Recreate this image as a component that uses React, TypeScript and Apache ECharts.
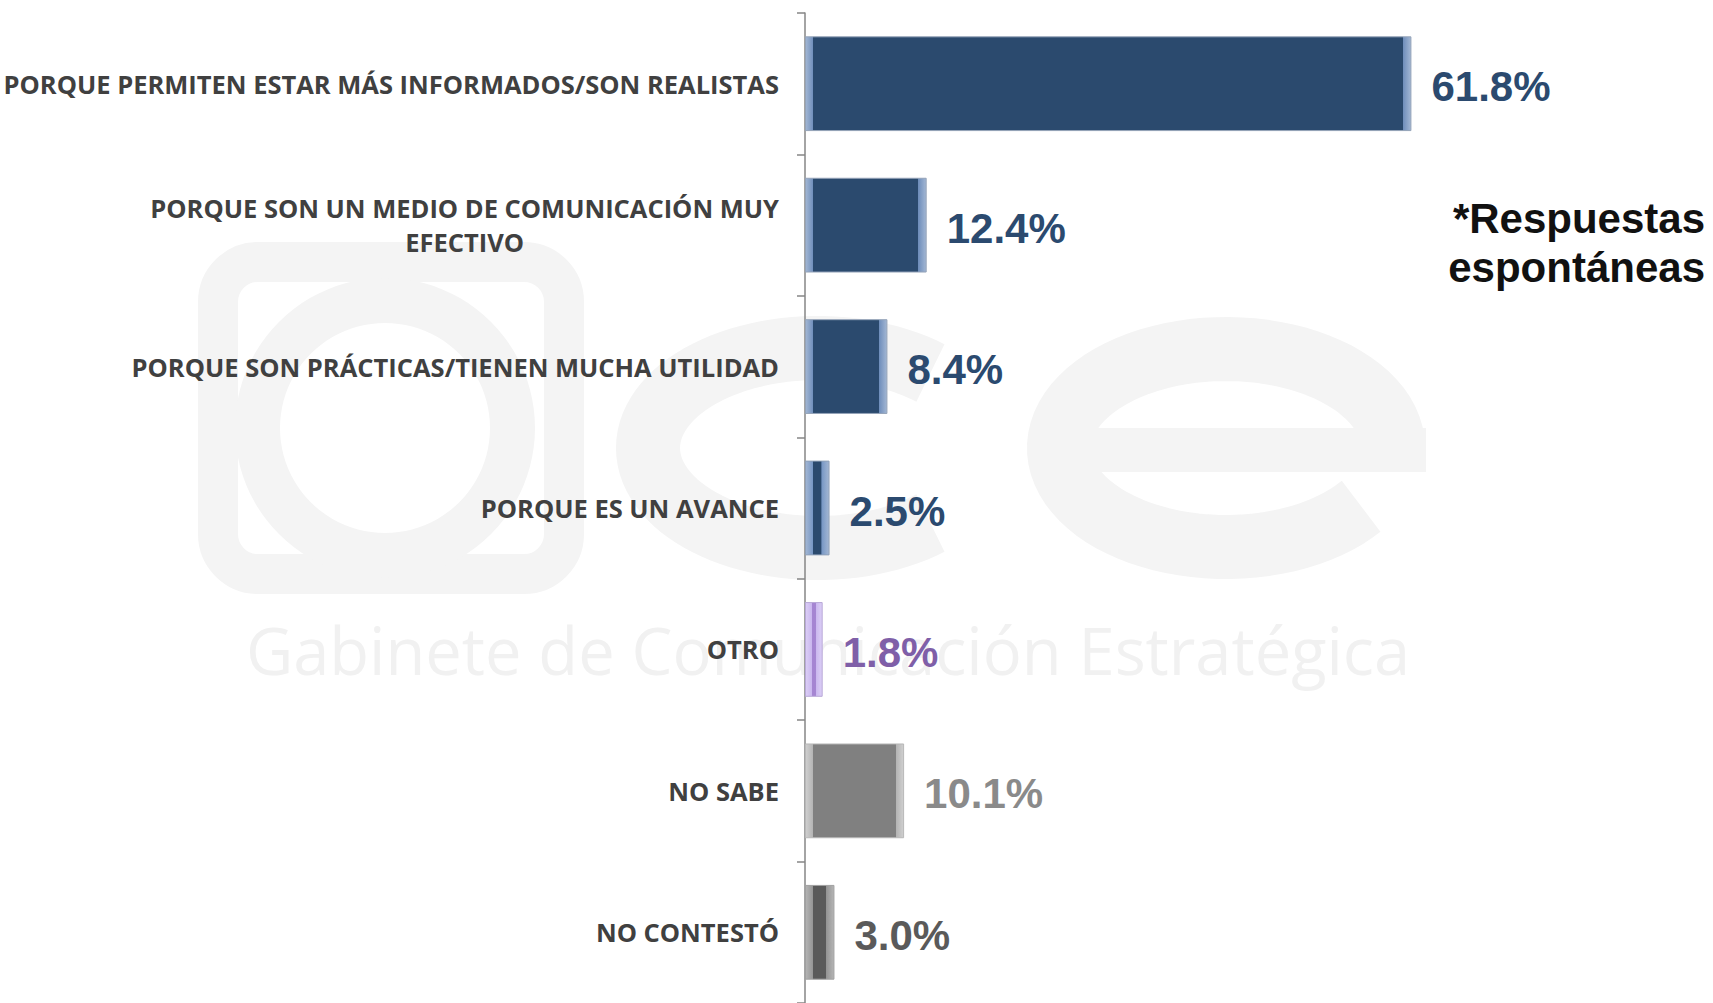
import React, { useEffect, useRef } from "react";
import * as echarts from "echarts";

const categories = [
  "PORQUE PERMITEN ESTAR MÁS INFORMADOS/SON REALISTAS",
  "PORQUE SON UN MEDIO DE COMUNICACIÓN MUY\nEFECTIVO",
  "PORQUE SON PRÁCTICAS/TIENEN MUCHA UTILIDAD",
  "PORQUE ES UN AVANCE",
  "OTRO",
  "NO SABE",
  "NO CONTESTÓ",
];
const values = [61.8, 12.4, 8.4, 2.5, 1.8, 10.1, 3.0];
const noteLines = ["*Respuestas", "espontáneas"];
const watermarkText = "Gabinete de Comunicación Estratégica";

// style palettes (per category)
const fillDark = ["#2B4A6E", "#2B4A6E", "#2B4A6E", "#2B4A6E", "#A585D2", "#808080", "#5A5A5A"];
const fillStrip = ["#6F8EBB", "#6F8EBB", "#6F8EBB", "#7696C4", "#C9B6EE", "#B3B3B3", "#959595"];
const fillEdge = ["#A3B7D4", "#A3B7D4", "#A3B7D4", "#A3B7D4", "#DCCFF6", "#D0D0D0", "#B5B5B5"];
const borderCols = ["#94A3B8", "#94A3B8", "#94A3B8", "#8FA0B8", "#B8A8D8", "#B8B8B8", "#A0A0A0"];
const labelCols = ["#2B4A6F", "#2B4A6F", "#2B4A6F", "#2B4A6F", "#7F5FA8", "#8A8A8A", "#5A5A5A"];

const X_MAX = 80;
const GRID_W = 785;
const STRIP_PX = 8;
const WM = "#F4F4F4";

function ellipseArc(cx: number, cy: number, rx: number, ry: number, t0: number, t1: number) {
  const pts: number[][] = [];
  const n = 80;
  for (let k = 0; k <= n; k++) {
    const t = t0 + ((t1 - t0) * k) / n;
    pts.push([cx + rx * Math.cos(t), cy + ry * Math.sin(t)]);
  }
  return pts;
}

export default function App() {
  const ref = useRef<HTMLDivElement>(null);
  useEffect(() => {
    if (!ref.current) return;
    const chart = echarts.init(ref.current, undefined, { renderer: "svg" });
    const pxPerUnit = GRID_W / X_MAX;
    const labelFont = "'Open Sans', 'DejaVu Sans', sans-serif";

    const data = values.map((v, i) => {
      const w = v * pxPerUnit;
      const f = Math.min(STRIP_PX / w, 0.4);
      return {
        value: v,
        itemStyle: {
          color: new echarts.graphic.LinearGradient(0, 0, 1, 0, [
            { offset: 0, color: fillEdge[i] },
            { offset: f * 0.97, color: fillStrip[i] },
            { offset: f, color: fillDark[i] },
            { offset: 1 - f, color: fillDark[i] },
            { offset: 1 - f * 0.97, color: fillStrip[i] },
            { offset: 1, color: fillEdge[i] },
          ]),
          borderColor: borderCols[i],
          borderWidth: 1,
        },
        label: { color: labelCols[i] },
      };
    });

    const cPts = ellipseArc(818, 448, 170, 100, Math.PI * 0.27, Math.PI * 1.73);
    const ePts = ellipseArc(1226, 448, 167, 99, 0, -Math.PI * 1.8);

    const option: any = {
      animation: false,
      backgroundColor: "#ffffff",
      graphic: {
        elements: [
          {
            type: "group",
            silent: true,
            z: -10,
            children: [
              {
                type: "rect",
                shape: { x: 218, y: 262, width: 346, height: 312, r: 40 },
                style: { fill: "none", stroke: WM, lineWidth: 40 },
                z: -10,
              },
              {
                type: "ring",
                shape: { cx: 385, cy: 428, r: 150, r0: 105 },
                style: { fill: WM },
                z: -10,
              },
              {
                type: "polyline",
                shape: { points: cPts },
                style: { fill: "none", stroke: WM, lineWidth: 64 },
                z: -10,
              },
              {
                type: "polyline",
                shape: { points: ePts },
                style: { fill: "none", stroke: WM, lineWidth: 64 },
                z: -10,
              },
              {
                type: "rect",
                shape: { x: 1050, y: 428, width: 376, height: 44 },
                style: { fill: WM },
                z: -10,
              },
              {
                type: "text",
                x: 828,
                y: 650,
                style: {
                  text: watermarkText,
                  font: "normal 65px 'Open Sans', sans-serif",
                  fill: "#F1F1F1",
                  textAlign: "center",
                  textVerticalAlign: "middle",
                },
                z: -10,
              },
            ],
          },
          {
            type: "text",
            right: 8,
            top: 197,
            style: {
              text: noteLines[0],
              font: "bold 42px 'Liberation Sans', Arial, sans-serif",
              fill: "#111111",
              textAlign: "right",
            },
            z: 10,
          },
          {
            type: "text",
            right: 8,
            top: 246,
            style: {
              text: noteLines[1],
              font: "bold 42px 'Liberation Sans', Arial, sans-serif",
              fill: "#111111",
              textAlign: "right",
            },
            z: 10,
          },
        ],
      },
      grid: { left: 805, top: 13, width: GRID_W, height: 994, containLabel: false },
      xAxis: {
        type: "value",
        min: 0,
        max: X_MAX,
        show: false,
        splitLine: { show: false },
      },
      yAxis: {
        type: "category",
        inverse: true,
        data: categories,
        axisLine: { show: true, lineStyle: { color: "#868686", width: 1.5 } },
        axisTick: { show: true, length: 8, lineStyle: { color: "#868686", width: 1.5 } },
        axisLabel: {
          margin: 26,
          fontSize: 25.5,
          fontWeight: "bold",
          fontFamily: labelFont,
          color: "#404040",
          lineHeight: 34,
          formatter: (val: string) =>
            val.indexOf("\n") >= 0
              ? val
                  .split("\n")
                  .map((l) => "{c|" + l + "}")
                  .join("\n")
              : val,
          rich: {
            c: {
              align: "center",
              fontSize: 25.5,
              fontWeight: "bold",
              fontFamily: labelFont,
              color: "#404040",
              lineHeight: 34,
            },
          },
        },
      },
      series: [
        {
          type: "bar",
          data,
          barCategoryGap: "33%",
          label: {
            show: true,
            position: "right",
            distance: 20,
            offset: [0, 3],
            fontSize: 42,
            fontWeight: "bold",
            fontFamily: "'Liberation Sans', Arial, sans-serif",
            formatter: (p: any) => p.value.toFixed(1) + "%",
          },
        },
      ],
    };
    chart.setOption(option);
    return () => chart.dispose();
  }, []);
  return (
    <div
      ref={ref}
      style={{ position: "fixed", left: 0, top: 0, width: 1713, height: 1003, background: "#fff" }}
    />
  );
}
